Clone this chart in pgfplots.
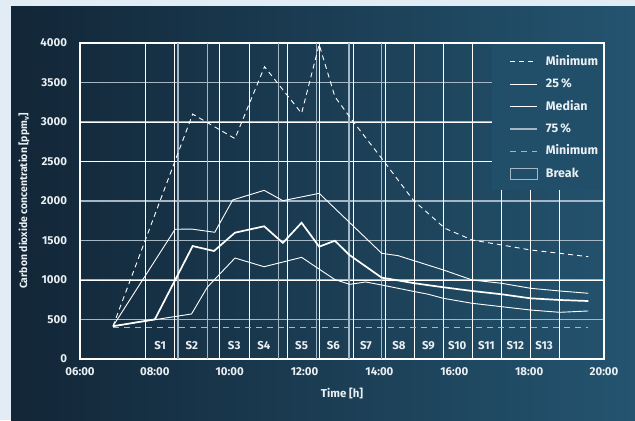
\documentclass[border=0pt]{standalone}
\usepackage{pgfplots}
\pgfplotsset{compat=1.18}
\usepackage{fontspec}
\setmainfont{Fira Sans}
\definecolor{outer}{RGB}{226,236,244}
\definecolor{bgL}{RGB}{18,38,55}
\definecolor{bgM}{RGB}{27,60,85}
\definecolor{bgR}{RGB}{36,84,112}
\definecolor{legbg}{RGB}{33,78,105}
\definecolor{gridgray}{RGB}{165,182,196}
\definecolor{txt}{RGB}{234,239,243}
\pgfplotsset{breaklegend/.style={legend image code/.code={\draw[##1] (0bp,-5.5bp) rectangle (26.7bp,5.5bp);}}}
\begin{document}
\begin{tikzpicture}[x=1bp,y=1bp]
\fill[outer] (0,0) rectangle (635,420);
\shade[left color=bgL, middle color=bgM, right color=bgR] (11,0) rectangle (635,413);
\begin{axis}[
  at={(80bp,61bp)}, anchor=south west, scale only axis,
  width=524bp, height=316bp,
  xmin=6, xmax=20, ymin=0, ymax=4000,
  xtick={6,8,...,20},
  xticklabels={06:00,08:00,10:00,12:00,14:00,16:00,18:00,20:00},
  ytick={0,500,...,4000},
  major tick length=0pt,
  axis line style={white, line width=1.2bp},
  ymajorgrids=true,
  major grid style={gridgray, line width=1.2bp},
  extra y ticks={1000,2500,3000},
  extra y tick labels={},
  extra y tick style={major tick length=0pt, grid=major, major grid style={white, line width=1bp}},
  /pgf/number format/assume math mode=true,
  /pgf/number format/1000 sep={},
  tick label style={text=txt, font=\bfseries\fontsize{11.5}{13}\selectfont},
  yticklabel style={xshift=-9.5bp},
  xticklabel style={yshift=-5bp},
  xlabel={Time [h]},
  ylabel={Carbon dioxide concentration [ppm\textsubscript{v}]},
  xlabel style={at={(axis description cs:0.5,-0.1076)}, anchor=center, text=txt, font=\bfseries\fontsize{11.5}{13}\selectfont},
  ylabel style={at={(axis description cs:-0.1069,0.5)}, anchor=center, text=txt, font=\bfseries\fontsize{10.5}{12}\selectfont},
  legend image code/.code={\draw[#1] (0bp,0bp) -- (26.7bp,0bp);},
  legend cell align=left,
  legend style={draw=none, fill=none, at={(0.7857,1)}, anchor=north west,
    inner xsep=17.6bp, inner ysep=13.2bp, row sep=11.3bp, column sep=8bp,
    nodes={inner sep=0pt, text height=9bp, text depth=2bp},
    font=\bfseries\fontsize{12.5}{14}\selectfont, text=txt},
]
% break boundaries
\addplot[ycomb, white, line width=1bp, mark=none, forget plot] coordinates {
  (7.745,4000) (8.530,4000) (9.740,4000) (10.523,4000) (11.539,4000)
  (12.386,4000) (13.294,4000) (14.149,4000) (14.932,4000) (15.707,4000)
  (16.481,4000) (17.267,4000) (18.039,4000) (18.824,4000)};
\addplot[ycomb, gridgray, line width=1.2bp, mark=none, forget plot] coordinates {
  (8.618,4000) (9.401,4000) (11.309,4000) (12.324,4000) (13.187,4000) (14.061,4000)};
% legend background
\fill[legbg] (rel axis cs:0.7857,0.5348) rectangle ([xshift=-0.7bp,yshift=-0.7bp]rel axis cs:1,1);
% break labels
\addplot[draw=none, mark=none, forget plot, nodes near coords, point meta=explicit symbolic,
  nodes near coords style={anchor=center, text=txt, font=\bfseries\fontsize{11.5}{13}\selectfont}]
  coordinates {
  (8.14,165)[S1] (8.99,165)[S2] (10.12,165)[S3] (10.91,165)[S4] (11.92,165)[S5]
  (12.77,165)[S6] (13.64,165)[S7] (14.52,165)[S8] (15.31,165)[S9] (16.08,165)[S10]
  (16.86,165)[S11] (17.63,165)[S12] (18.40,165)[S13]};
% lower dashed reference
\addplot[gridgray, line width=1.2bp, dash pattern=on 6bp off 5bp, forget plot] coordinates {(6.88,400) (19.58,400)};
% upper dashed
\addplot[white, line width=0.9bp, dash pattern=on 5bp off 4bp, forget plot] coordinates {
  (6.88,415) (9.01,3100) (10.14,2790) (10.93,3700) (11.92,3110) (12.39,3980)
  (12.81,3320) (13.3,3004) (14.06,2540) (14.9,2013) (15.75,1654) (16.48,1506)
  (17.27,1443) (18.04,1380) (18.82,1338) (19.58,1295)};
% upper thin
\addplot[white, line width=0.9bp, forget plot] coordinates {
  (6.88,415) (8.54,1642) (8.98,1645) (9.6,1604) (10.08,2013) (10.92,2135)
  (11.42,2004) (12.39,2097) (14.06,1338) (14.5,1308) (15.71,1127) (16.48,1000)
  (17.27,958) (18.04,895) (18.82,861) (19.58,832)};
% median
\addplot[white, line width=1.7bp, forget plot] coordinates {
  (6.88,415) (8.0,502) (9.01,1430) (9.58,1367) (10.14,1599) (10.92,1680)
  (11.42,1470) (11.92,1725) (12.39,1422) (12.81,1497) (13.2,1316) (14.06,1030)
  (14.95,958) (15.71,908) (16.48,861) (17.27,819) (18.04,768) (18.82,747) (19.58,734)};
% lower thin
\addplot[white, line width=0.9bp, forget plot] coordinates {
  (6.88,415) (8.98,570) (9.40,908) (10.14,1278) (10.92,1168) (11.92,1287)
  (12.81,1005) (13.21,945) (13.63,975) (14.06,937) (14.95,852) (15.3,820)
  (15.71,768) (16.48,705) (17.27,662) (18.04,620) (18.82,591) (19.58,608)};
% legend
\addlegendimage{white, line width=0.9bp, dash pattern=on 5bp off 4bp}
\addlegendentry{Minimum}
\addlegendimage{white, line width=0.9bp}
\addlegendentry{25\,\%}
\addlegendimage{white, line width=1.7bp}
\addlegendentry{Median}
\addlegendimage{gridgray, line width=1.7bp}
\addlegendentry{75\,\%}
\addlegendimage{gridgray, line width=1.2bp, dash pattern=on 6bp off 5bp}
\addlegendentry{Minimum}
\addlegendimage{breaklegend, gridgray, line width=1bp}
\addlegendentry{Break}
\end{axis}
\end{tikzpicture}
\end{document}
